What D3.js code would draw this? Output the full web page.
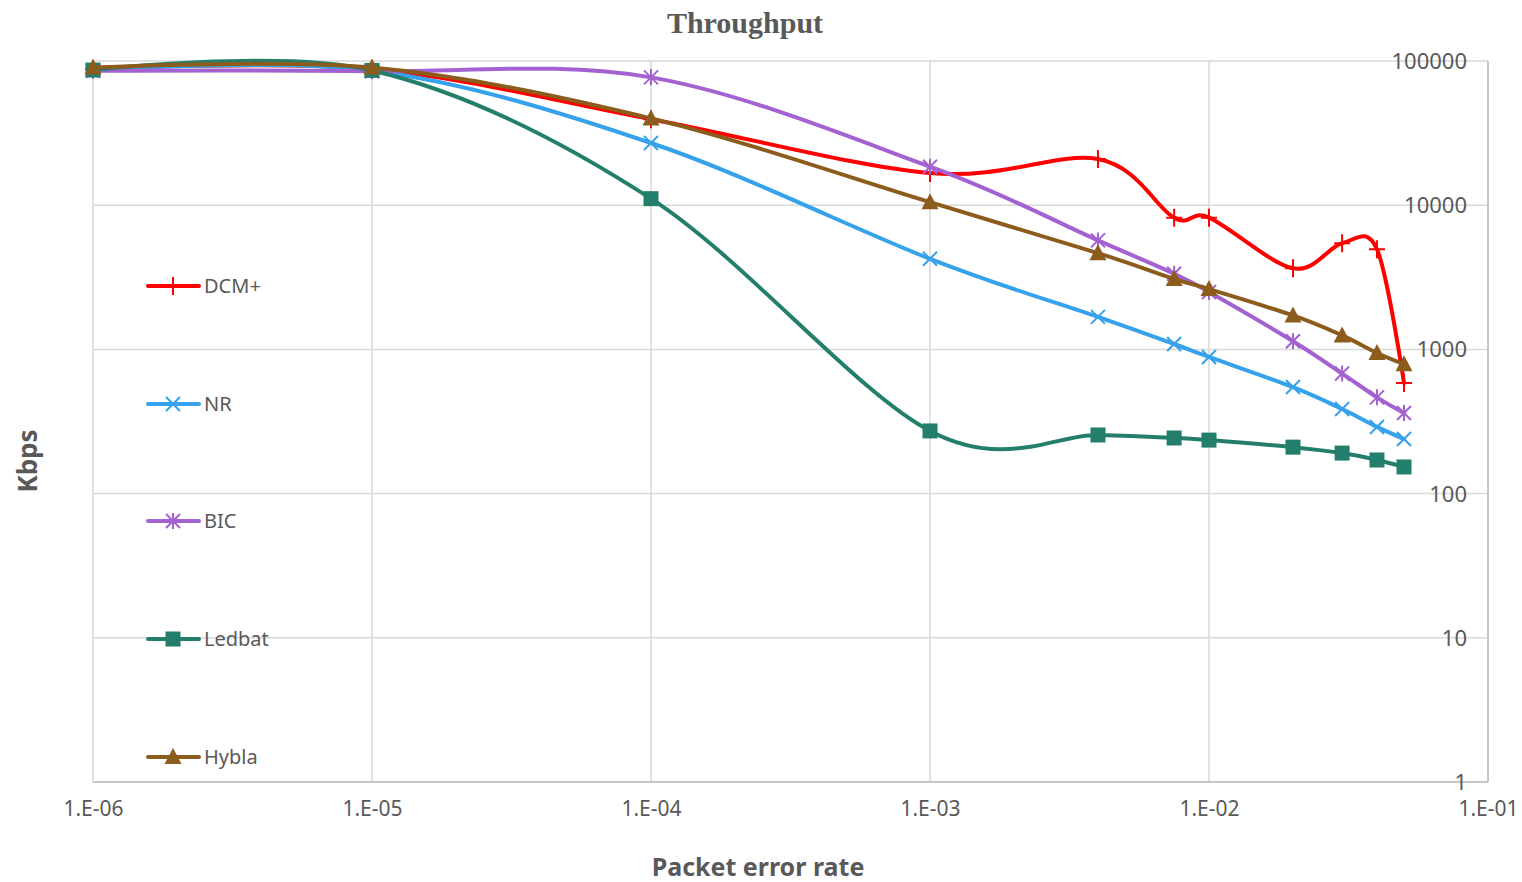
<!DOCTYPE html>
<html>
<head>
<meta charset="utf-8">
<script src="https://cdn.jsdelivr.net/npm/d3@7"></script>
<style>
  html, body { margin: 0; padding: 0; background: #ffffff; }
  svg { display: block; }
</style>
</head>
<body>
<svg id="chart" width="1522" height="882"></svg>
<script>
// ---- data ----
const perValues = [1e-6, 1e-5, 1e-4, 1e-3, 4e-3, 7.5e-3, 1e-2, 2e-2, 3e-2, 4e-2, 5e-2];
const seriesNames = ["DCM+", "NR", "BIC", "Ledbat", "Hybla"];
const dcmValues    = [88000, 88000, 39500, 16700, 20900, 8200, 8200, 3650, 5450, 4950, 585];
const nrValues     = [86500, 86000, 27000, 4250, 1680, 1090, 886, 548, 386, 290, 239];
const bicValues    = [85500, 85000, 77000, 18500, 5700, 3350, 2500, 1140, 680, 465, 362];
const ledbatValues = [86500, 86000, 11100, 272, 255, 243, 235, 210, 191, 171, 153];
const hyblaValues  = [90000, 90000, 40000, 10500, 4650, 3080, 2620, 1720, 1250, 945, 790];
const xTickValues = [1e-6, 1e-5, 1e-4, 1e-3, 1e-2, 1e-1];
const xTickLabels = ["1.E-06", "1.E-05", "1.E-04", "1.E-03", "1.E-02", "1.E-01"];
const yTickValues = [1, 10, 100, 1000, 10000, 100000];
const yTickLabels = ["1", "10", "100", "1000", "10000", "100000"];

const seriesValues = [dcmValues, nrValues, bicValues, ledbatValues, hyblaValues];
const colors = ["#ff0000", "#36a2eb", "#a461d1", "#237f6b", "#8c5c1c"];
const markers = ["plus", "cross", "star", "square", "triangle"];

// ---- layout ----
const pLeft = 93, pRight = 1488, pTop = 61, pBottom = 782;
const svg = d3.select("#chart");
const x = d3.scaleLog().domain([1e-6, 1e-1]).range([pLeft, pRight]);
const y = d3.scaleLog().domain([1, 100000]).range([pBottom, pTop]);
const textColor = "#595959";
const gridColor = "#d9d9d9";
const tickFont = "'Century Gothic', 'Noto Sans', 'DejaVu Sans', sans-serif";

// grid
svg.append("g").selectAll("line").data(yTickValues).join("line")
  .attr("x1", pLeft).attr("x2", pRight)
  .attr("y1", d => y(d)).attr("y2", d => y(d))
  .attr("stroke", gridColor).attr("stroke-width", 1.5);
svg.append("g").selectAll("line").data(xTickValues).join("line")
  .attr("x1", d => x(d)).attr("x2", d => x(d))
  .attr("y1", pTop).attr("y2", pBottom)
  .attr("stroke", gridColor).attr("stroke-width", 1.5);
svg.append("line").attr("x1", pLeft).attr("x2", pRight).attr("y1", pBottom).attr("y2", pBottom)
  .attr("stroke", "#bfbfbf").attr("stroke-width", 1.5);
svg.append("line").attr("x1", pRight).attr("x2", pRight).attr("y1", pTop).attr("y2", pBottom)
  .attr("stroke", "#bfbfbf").attr("stroke-width", 1.5);

// x tick labels
const xAxis = d3.axisBottom(x).tickValues(xTickValues)
  .tickFormat((d, i) => xTickLabels[i]).tickSize(0).tickPadding(19);
const gx = svg.append("g").attr("transform", `translate(0,${pBottom})`).call(xAxis);
gx.select(".domain").remove();
gx.selectAll("text").attr("fill", textColor).style("font-family", tickFont).style("font-size", "21px");

// y tick labels (inside, right aligned, on gridline)
const yAxis = d3.axisLeft(y).tickValues(yTickValues)
  .tickFormat((d, i) => yTickLabels[i]).tickSize(0).tickPadding(0);
const gy = svg.append("g").attr("transform", `translate(${pRight - 21},0)`).call(yAxis);
gy.select(".domain").remove();
gy.selectAll("text").attr("fill", textColor).style("font-family", tickFont).style("font-size", "22px")
  .attr("dy", "0.34em");

// lines
const line = d3.line()
  .x((d, i) => x(perValues[i]))
  .y(d => y(d))
  .curve(d3.curveCardinal.tension(0));

function drawMarker(g, type, cx, cy, color) {
  if (type === "plus") {
    g.append("path").attr("d", `M${cx-8},${cy}H${cx+8}M${cx},${cy-9}V${cy+9}`)
      .attr("stroke", color).attr("stroke-width", 2).attr("fill", "none");
  } else if (type === "cross") {
    g.append("path").attr("d", `M${cx-7},${cy-7}L${cx+7},${cy+7}M${cx-7},${cy+7}L${cx+7},${cy-7}`)
      .attr("stroke", color).attr("stroke-width", 2).attr("fill", "none");
  } else if (type === "star") {
    g.append("path").attr("d", `M${cx-7},${cy-7}L${cx+7},${cy+7}M${cx-7},${cy+7}L${cx+7},${cy-7}M${cx},${cy-8}V${cy+8}`)
      .attr("stroke", color).attr("stroke-width", 2).attr("fill", "none");
  } else if (type === "square") {
    g.append("rect").attr("x", cx-7.5).attr("y", cy-7.5).attr("width", 15).attr("height", 15)
      .attr("fill", color);
  } else if (type === "triangle") {
    g.append("path").attr("d", `M${cx},${cy-9}L${cx+8.5},${cy+7}L${cx-8.5},${cy+7}Z`)
      .attr("fill", color);
  }
}

seriesValues.forEach((vals, s) => {
  const g = svg.append("g");
  g.append("path").datum(vals).attr("d", line)
    .attr("fill", "none").attr("stroke", colors[s]).attr("stroke-width", 4)
    .attr("stroke-linecap", "round").attr("stroke-linejoin", "round");
  vals.forEach((v, i) => drawMarker(g, markers[s], x(perValues[i]), y(v), colors[s]));
});

// legend
const legendY = [286, 404, 521, 639, 757];
seriesNames.forEach((name, s) => {
  const g = svg.append("g");
  const ly = legendY[s];
  g.append("line").attr("x1", 148).attr("x2", 199).attr("y1", ly).attr("y2", ly)
    .attr("stroke", colors[s]).attr("stroke-width", 4).attr("stroke-linecap", "round");
  drawMarker(g, markers[s], 173, ly, colors[s]);
  g.append("text").attr("x", 204).attr("y", ly).attr("dy", "0.36em")
    .attr("fill", textColor).style("font-family", tickFont).style("font-size", "20px")
    .text(name);
});

// titles
svg.append("text").attr("x", 745).attr("y", 33).attr("text-anchor", "middle")
  .attr("fill", textColor).style("font-family", "'Liberation Serif', 'Times New Roman', serif")
  .style("font-weight", "bold").style("font-size", "30px").text("Throughput");
svg.append("text").attr("x", 758).attr("y", 876).attr("text-anchor", "middle")
  .attr("fill", textColor).style("font-family", tickFont)
  .style("font-weight", "bold").style("font-size", "25px").text("Packet error rate");
svg.append("text").attr("transform", "translate(37,461) rotate(-90)").attr("text-anchor", "middle")
  .attr("fill", textColor).style("font-family", tickFont)
  .style("font-weight", "bold").style("font-size", "26px").text("Kbps");
</script>
</body>
</html>
